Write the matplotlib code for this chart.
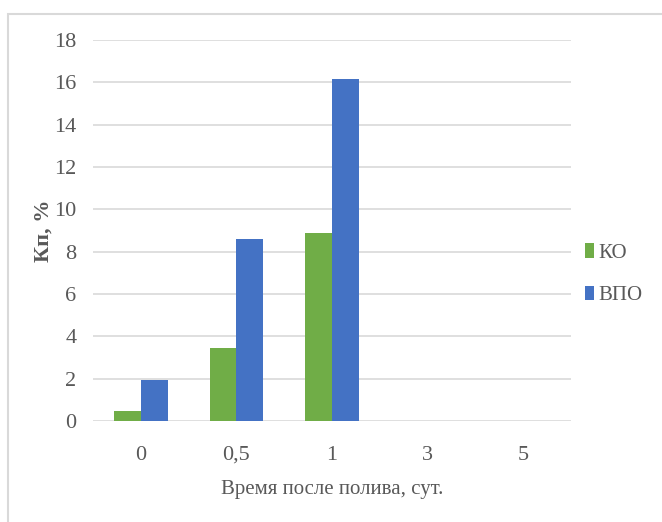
import matplotlib.pyplot as plt
import numpy as np
from matplotlib.patches import Rectangle

# Данные: коэффициент Кп по времени после полива
categories = ["0", "0,5", "1", "3", "5"]
ko = [0.45, 3.45, 8.9, 0, 0]
vpo = [1.95, 8.6, 16.15, 0, 0]

plt.rcParams['font.family'] = ['Liberation Serif', 'DejaVu Serif']
text_color = "#595959"

fig = plt.figure(figsize=(6.62, 5.22), dpi=100)
ax = fig.add_axes([93 / 662, 1 - 421 / 522, (571 - 93) / 662, (421 - 40) / 522])

x = np.arange(len(categories))
w = 0.28
ax.bar(x - w / 2, ko, w, color="#70AD47", label="КО")
ax.bar(x + w / 2, vpo, w, color="#4472C4", label="ВПО")

ax.set_xlim(-0.5, len(categories) - 0.5)
ax.set_ylim(0, 18)
ax.set_yticks(np.arange(0, 19, 2))
ax.set_xticks(x)
ax.set_xticklabels(categories)
ax.grid(axis='y', color="#D9D9D9", linewidth=1.2)
ax.set_axisbelow(True)
for s in ["top", "right", "left", "bottom"]:
    ax.spines[s].set_visible(False)
ax.tick_params(length=0, labelsize=16, colors=text_color, pad=12)
ax.tick_params(axis='x', pad=18)

ax.set_xlabel("Время после полива, сут.", fontsize=15, color=text_color, labelpad=11)
ax.set_ylabel("Кп, %", fontsize=16, color=text_color, fontweight='bold', labelpad=0)

leg = ax.legend(loc='center left', bbox_to_anchor=(0.99, 0.385), frameon=False,
                fontsize=15, handlelength=0.45, handleheight=0.7, handletextpad=0.2,
                labelspacing=1.1)
for t in leg.get_texts():
    t.set_color(text_color)

# рамка области диаграммы
fig.patches.append(Rectangle((8 / 662, -0.01), 1.0, 1 - 14 / 522 + 0.01,
                             transform=fig.transFigure, fill=False,
                             edgecolor="#D9D9D9", linewidth=1.5))

fig.savefig("out.png", dpi=100)
